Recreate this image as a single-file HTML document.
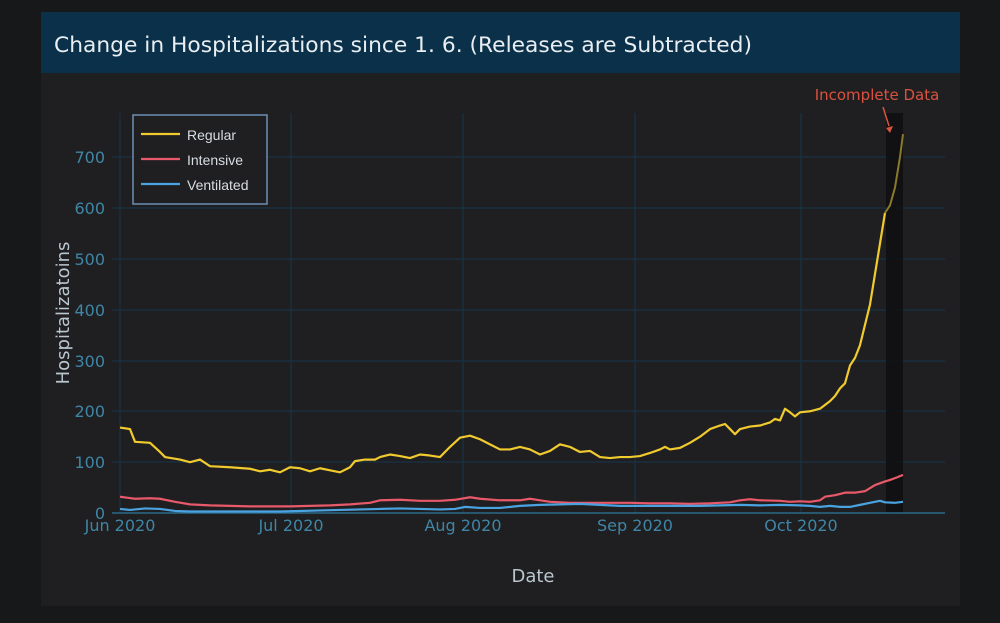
<!DOCTYPE html>
<html><head><meta charset="utf-8"><style>
html,body{margin:0;padding:0;background:#17181a;width:1000px;height:623px;overflow:hidden}
svg{display:block}
text{font-family:"DejaVu Sans","Liberation Sans",sans-serif}
</style></head><body>
<svg width="1000" height="623" viewBox="0 0 1000 623" xmlns="http://www.w3.org/2000/svg">
<rect x="0" y="0" width="1000" height="623" fill="#17181a"/>
<rect x="41" y="12" width="919" height="594" fill="#1f1f21"/>
<rect x="41" y="12" width="919" height="61" fill="#0b3049"/>
<text x="54" y="52" fill="#e8eef2" font-size="21" textLength="698" lengthAdjust="spacingAndGlyphs">Change in Hospitalizations since 1. 6. (Releases are Subtracted)</text>

<g stroke="#14364a" stroke-width="1">
<line x1="112" y1="462" x2="945" y2="462"/><line x1="112" y1="411" x2="945" y2="411"/>
<line x1="112" y1="361" x2="945" y2="361"/><line x1="112" y1="310" x2="945" y2="310"/>
<line x1="112" y1="259" x2="945" y2="259"/><line x1="112" y1="208" x2="945" y2="208"/>
<line x1="112" y1="157" x2="945" y2="157"/>
<line x1="120" y1="113" x2="120" y2="513"/><line x1="291" y1="113" x2="291" y2="513"/>
<line x1="463" y1="113" x2="463" y2="513"/><line x1="635" y1="113" x2="635" y2="513"/>
<line x1="801" y1="113" x2="801" y2="513"/>
</g>
<rect x="886" y="113" width="17" height="400" fill="#0f0f10" opacity="0.85"/>
<line x1="112" y1="513" x2="945" y2="513" stroke="#2a6a88" stroke-width="1.5"/>

<g fill="#3f86a6" font-size="16" text-anchor="end">
<text x="105" y="519">0</text><text x="105" y="468">100</text><text x="105" y="417">200</text>
<text x="105" y="367">300</text><text x="105" y="316">400</text><text x="105" y="265">500</text>
<text x="105" y="214">600</text><text x="105" y="163">700</text>
</g>
<g fill="#3f86a6" font-size="16" text-anchor="middle">
<text x="120" y="531">Jun 2020</text><text x="291" y="531">Jul 2020</text>
<text x="463" y="531">Aug 2020</text><text x="635" y="531">Sep 2020</text>
<text x="801" y="531">Oct 2020</text>
</g>
<text x="533" y="582" fill="#b9c6cf" font-size="18" text-anchor="middle">Date</text>
<text transform="translate(69,313) rotate(-90)" fill="#b9c6cf" font-size="18" text-anchor="middle">Hospitalizatoins</text>

<g transform="translate(0,513) scale(1,-0.5086)" fill="none" stroke-linejoin="round">
<polyline vector-effect="non-scaling-stroke" stroke="#f0ca2e" stroke-width="2.2" points="120,168 130,165 135,140 150,138 160,120 165,110 180,105 190,100 200,105 210,92 230,90 250,87 260,82 270,85 280,80 290,90 300,88 310,82 320,88 330,84 340,80 350,90 355,102 365,105 375,105 380,110 390,115 400,112 410,108 420,115 430,113 440,110 450,130 460,148 470,152 480,145 490,135 500,125 510,125 520,130 530,125 540,115 550,122 560,135 570,130 580,120 590,122 600,110 610,108 620,110 630,110 640,112 650,118 660,125 665,130 670,125 680,128 690,138 700,150 710,165 720,172 725,175 730,165 735,155 740,165 750,170 760,172 770,178 775,185 780,182 785,205 790,198 795,190 800,198 810,200 820,205 830,220 835,230 840,245 845,255 850,290 855,305 860,330 865,370 870,410 875,470 880,530 885,590"/>
<polyline vector-effect="non-scaling-stroke" stroke="#8a7a2a" stroke-width="2" points="885,590 890,605 895,640 900,700 903,745"/>
<polyline vector-effect="non-scaling-stroke" stroke="#e8596a" stroke-width="2.2" points="120,32 135,28 150,29 160,28 175,22 190,17 210,15 230,14 250,13 270,13 290,13 310,14 330,15 350,17 370,20 380,25 400,26 420,24 440,24 455,26 470,31 480,28 500,25 520,25 530,28 540,25 550,22 570,20 590,20 610,20 630,20 650,19 670,19 690,18 710,19 730,21 740,25 750,27 760,25 780,24 790,22 800,23 810,22 820,25 825,32 835,35 845,40 855,40 865,43 875,55 885,62 890,65 897,70 903,75"/>
<polyline vector-effect="non-scaling-stroke" stroke="#4aa3e0" stroke-width="2.2" points="120,8 130,6 145,9 160,8 175,4 190,3 220,3 250,3 280,3 300,4 320,5 340,6 360,7 380,8 400,9 420,8 440,7 455,8 465,12 480,10 500,10 520,14 540,16 560,17 580,18 600,16 620,14 640,14 660,14 680,14 700,14 720,15 740,16 760,15 780,16 800,15 810,14 820,12 830,14 840,12 850,12 860,16 870,20 880,24 885,21 895,20 903,22"/>
</g>

<rect x="133" y="115" width="134" height="89" fill="#1f1f21" stroke="#6b8fb5" stroke-width="1.5"/>
<line x1="141" y1="134" x2="180" y2="134" stroke="#f0ca2e" stroke-width="2.2"/>
<line x1="141" y1="159" x2="180" y2="159" stroke="#e8596a" stroke-width="2.2"/>
<line x1="141" y1="184" x2="180" y2="184" stroke="#4aa3e0" stroke-width="2.2"/>
<g fill="#d8dde2" font-size="14">
<text x="187" y="140" style="font-family:'Liberation Sans',sans-serif">Regular</text>
<text x="187" y="165" style="font-family:'Liberation Sans',sans-serif">Intensive</text>
<text x="187" y="190" style="font-family:'Liberation Sans',sans-serif">Ventilated</text>
</g>

<text x="877" y="100" fill="#d9523f" font-size="15" text-anchor="middle">Incomplete Data</text>
<line x1="883" y1="107" x2="889" y2="126" stroke="#d9523f" stroke-width="1.5"/>
<polygon points="886,128 893,126 890,133" fill="#d9523f"/>
</svg>
</body></html>
